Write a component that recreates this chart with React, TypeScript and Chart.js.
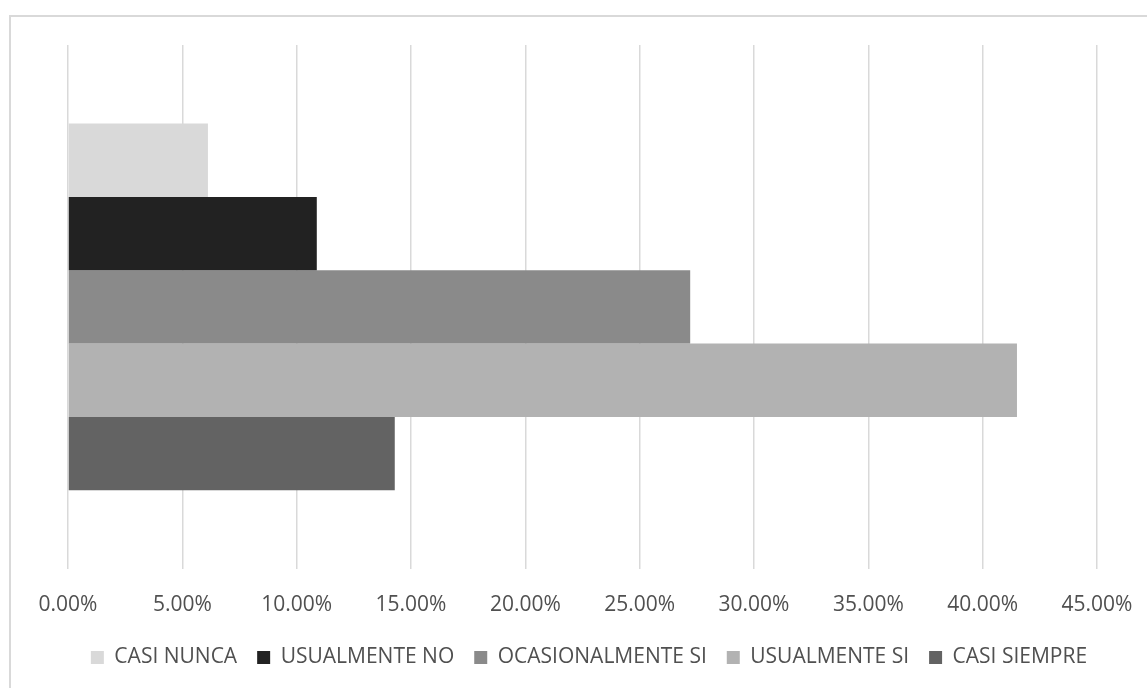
import React, { useEffect, useRef } from "react";
import { Chart, registerables } from "chart.js";

Chart.register(...registerables);

const categories = [""];
const seriesNames = ["CASI NUNCA", "USUALMENTE NO", "OCASIONALMENTE SI", "USUALMENTE SI", "CASI SIEMPRE"];
const casiNunca = [6.12];
const usualmenteNo = [10.88];
const ocasionalmenteSi = [27.21];
const usualmenteSi = [41.5];
const casiSiempre = [14.29];
const seriesColors = ["#d9d9d9", "#222222", "#8a8a8a", "#b2b2b2", "#636363"];
const axisMax = 45;
const axisStep = 5;

export default function App() {
  const ref = useRef<HTMLCanvasElement | null>(null);

  useEffect(() => {
    if (!ref.current) return;
    const values = [casiNunca, usualmenteNo, ocasionalmenteSi, usualmenteSi, casiSiempre];
    const chart = new Chart(ref.current, {
      type: "bar",
      data: {
        labels: categories,
        datasets: seriesNames.map((name, i) => ({
          label: name,
          data: values[i],
          backgroundColor: seriesColors[i],
          borderWidth: 0,
          categoryPercentage: 0.7,
          barPercentage: 1,
        })),
      },
      options: {
        indexAxis: "y",
        animation: false,
        responsive: false,
        maintainAspectRatio: false,
        layout: { padding: { left: 31, right: 0, top: 45, bottom: 10 } },
        plugins: {
          tooltip: { enabled: false },
          legend: {
            position: "bottom",
            labels: {
              boxWidth: 13,
              boxHeight: 13,
              padding: 20,
              color: "#505050",
              font: { family: "'Open Sans', sans-serif", size: 21 },
            },
          },
        },
        scales: {
          y: {
            display: true,
            position: "left",
            ticks: { display: false },
            grid: { display: false },
            border: { display: false },
            afterFit: (scale: any) => {
              scale.width = 37;
            },
          },
          yRight: {
            type: "category",
            display: true,
            position: "right",
            ticks: { display: false },
            grid: { display: false },
            border: { display: false },
            afterFit: (scale: any) => {
              scale.width = 50;
            },
          },
          x: {
            min: 0,
            max: axisMax,
            border: { display: false },
            grid: { color: "#d9d9d9", lineWidth: 1.5, drawTicks: false },
            afterFit: (scale: any) => {
              scale.height = scale.height - 15;
              scale.paddingLeft = 0;
              scale.paddingRight = 0;
            },
            ticks: {
              stepSize: axisStep,
              padding: 24,
              color: "#505050",
              font: { family: "'Open Sans', sans-serif", size: 21 },
              maxRotation: 0,
              callback: (v: any) => Number(v).toFixed(2) + "%",
            },
          },
        },
      },
    });
    return () => chart.destroy();
  }, []);

  return (
    <div>
      <div
        style={{
          position: "fixed",
          left: 9,
          top: 15,
          width: 1200,
          height: 740,
          borderTop: "2px solid #d9d9d9",
          borderLeft: "2px solid #d9d9d9",
          boxSizing: "border-box",
        }}
      />
      <canvas
        ref={ref}
        width={1147}
        height={688}
        style={{ position: "fixed", left: 0, top: 0, width: 1147, height: 688 }}
      />
    </div>
  );
}
